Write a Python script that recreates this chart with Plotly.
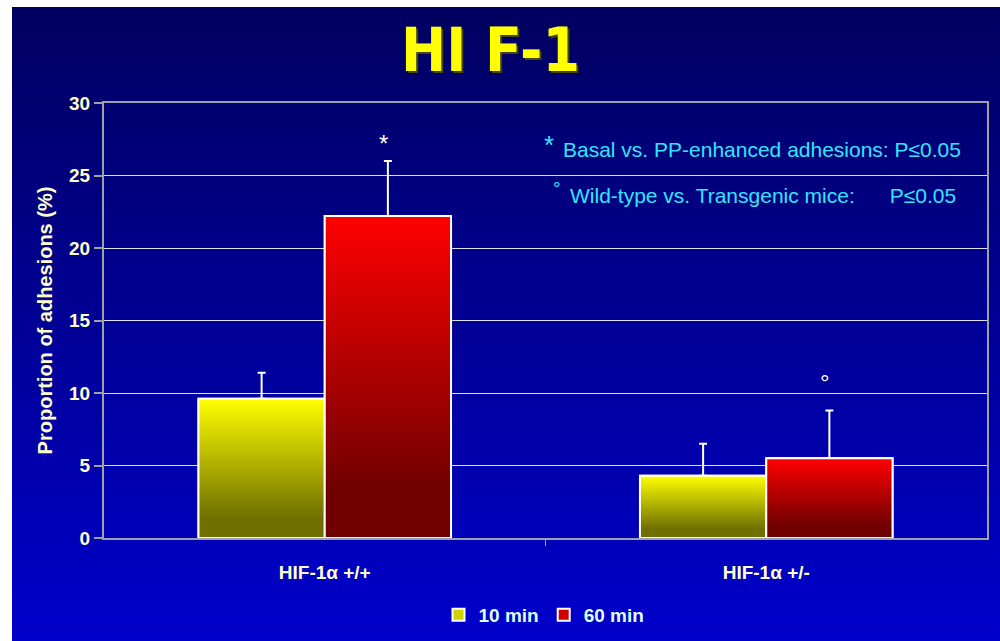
import base64
import plotly.graph_objects as go

# ---------------- data ----------------
categories = ["HIF-1α +/+", "HIF-1α +/-"]
series_names = ["10 min", "60 min"]
values_10 = [9.6, 4.3]
errors_10 = [1.8, 2.2]
values_60 = [22.2, 5.5]
errors_60 = [3.8, 3.3]
y_ticks = [0, 5, 10, 15, 20, 25, 30]
title_text = "HI F-1"
y_title = "Proportion of adhesions (%)"
note_lines = ["Basal vs. PP-enhanced adhesions: P≤0.05",
              "Wild-type vs. Transgenic mice:&nbsp;&nbsp;&nbsp;&nbsp;&nbsp;&nbsp;P≤0.05"]
marks = ["*", "°"]
mark_y = [27.2, 10.7]

# ---------------- style / layout ----------------
BAR_W = 0.286
x_idx = list(range(len(categories)))
CREAM = "#FFFFCC"
CYAN = "#33E6FF"
FONT = "Liberation Sans, Arial, sans-serif"
GRAY = "#A0A0A8"

FW, FH = 1000, 641
L, T = 104, 103
R = FW - 987
B = FH - 538
W, H = FW - L - R, FH - T - B


def px(xs):
    return (xs - L) / W


def py(ys):
    return (T + H - ys) / H


yellow_scale = [[0, "#707000"], [0.15, "#707000"], [1, "#FFFF00"]]
red_scale = [[0, "#700000"], [0.15, "#700000"], [1, "#FF0000"]]

fig = go.Figure()

series = [
    (series_names[0], values_10, errors_10, -BAR_W, "#D0D000", yellow_scale),
    (series_names[1], values_60, errors_60, 0.0, "#D00000", red_scale),
]

for name, vals, errs, off, solid, scale in series:
    fig.add_trace(go.Bar(
        x=x_idx, y=vals, width=BAR_W, offset=off, name=f"<b>{name}</b>",
        marker=dict(color=solid, line=dict(color="white", width=2)),
        error_y=dict(type="data", array=errs, arrayminus=[0] * len(errs),
                     symmetric=False, color="white", thickness=2, width=4),
        hoverinfo="skip",
    ))

# gradient overlays for the bars (computed from the same data)
for name, vals, errs, off, solid, scale in series:
    for xi, v in zip(x_idx, vals):
        l = xi + off
        r = l + BAR_W
        fig.add_trace(go.Scatter(
            x=[l, l, r, r, l], y=[0, v, v, 0, 0], mode="lines",
            fill="toself",
            fillgradient=dict(type="vertical", colorscale=scale),
            line=dict(color="white", width=2),
            showlegend=False, hoverinfo="skip",
        ))

# background gradient (SVG)
svg = ('<svg xmlns="http://www.w3.org/2000/svg" width="100" height="100" preserveAspectRatio="none">'
       '<defs><linearGradient id="g" x1="0" y1="0" x2="0" y2="1">'
       '<stop offset="0" stop-color="#000060"/><stop offset="1" stop-color="#0000CC"/>'
       '</linearGradient></defs><rect width="100" height="100" fill="url(#g)"/></svg>')
uri = "data:image/svg+xml;base64," + base64.b64encode(svg.encode()).decode()

fig.add_layout_image(dict(
    source=uri, xref="paper", yref="paper",
    x=px(12), y=py(7),
    sizex=(FW - 12) / W, sizey=(FH - 7) / H,
    xanchor="left", yanchor="top", sizing="stretch", layer="below",
))

# title
fig.add_annotation(text=f"<b>{title_text}</b>", xref="paper", yref="paper",
                   x=px(490), y=py(50), xanchor="center", yanchor="middle", showarrow=False,
                   font=dict(family="Liberation Sans Narrow, Arial Narrow, DejaVu Sans Condensed, sans-serif",
                             size=60, color="#FFFF00", shadow="2px 2px 0px #454500"))

# significance marks above the 60-min bars
for xi, m, my in zip(x_idx, marks, mark_y):
    fig.add_annotation(text=m, x=xi + BAR_W / 2 - 0.01, y=my, showarrow=False,
                       xanchor="center", yanchor="middle",
                       font=dict(family=FONT, size=24, color="white"))

# notes
fig.add_annotation(text="*", xref="paper", yref="paper", x=px(549), y=py(145),
                   xanchor="center", yanchor="middle",
                   showarrow=False, font=dict(family=FONT, size=26, color=CYAN))
fig.add_annotation(text=note_lines[0], xref="paper", yref="paper", x=px(561),
                   y=py(150), xanchor="left", yanchor="middle", showarrow=False,
                   font=dict(family=FONT, size=21, color=CYAN))
fig.add_annotation(text="°", xref="paper", yref="paper", x=px(557), y=py(188),
                   xanchor="center", yanchor="middle",
                   showarrow=False, font=dict(family=FONT, size=19, color=CYAN))
fig.add_annotation(text=note_lines[1], xref="paper", yref="paper", x=px(568),
                   y=py(195), xanchor="left", yanchor="middle", showarrow=False,
                   font=dict(family=FONT, size=21, color=CYAN))

fig.update_layout(
    width=FW, height=FH,
    margin=dict(l=L, r=R, t=T, b=B, autoexpand=False),
    paper_bgcolor="white", plot_bgcolor="rgba(0,0,0,0)",
    barmode="overlay",
    showlegend=True,
    legend=dict(orientation="h", x=px(544), xanchor="center", y=py(615), yanchor="middle",
                font=dict(family=FONT, size=19, color="#DDFFFF"), bgcolor="rgba(0,0,0,0)",
                itemwidth=30, tracegroupgap=0),
    xaxis=dict(range=[-0.5, 1.5], tickmode="array", tickvals=x_idx,
               ticktext=[f"<b>{c}</b>" for c in categories],
               tickfont=dict(family=FONT, size=19, color=CREAM),
               showline=True, mirror=True, linecolor=GRAY, linewidth=2, ticks="",
               showgrid=False, zeroline=False, ticklabelstandoff=16,
               minor=dict(tickmode="array", tickvals=[0.5], ticks="outside", ticklen=6,
                          tickcolor=GRAY, tickwidth=1, showgrid=False)),
    yaxis=dict(range=[0, 30], tickmode="array", tickvals=y_ticks,
               ticktext=[f"<b>{t}</b>" for t in y_ticks],
               tickfont=dict(family=FONT, size=19, color=CREAM),
               showline=True, mirror=True, linecolor=GRAY, linewidth=2,
               ticks="outside", ticklen=8, tickcolor=GRAY, tickwidth=2,
               showgrid=True, gridcolor="#E0E0F0", gridwidth=1, zeroline=False,
               title=dict(text=f"<b>{y_title}</b>", standoff=11,
                          font=dict(family=FONT, size=20, color=CREAM))),
)

fig.write_html("out.html", config={"displayModeBar": False},
               post_script="document.body.style.margin='0';document.body.style.overflow='hidden';")
